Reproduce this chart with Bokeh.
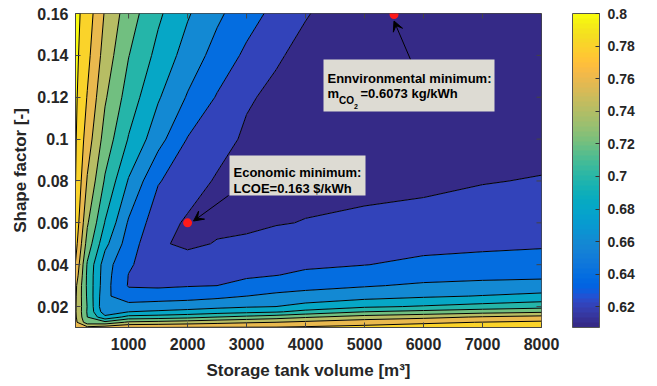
import numpy as np
from bokeh.plotting import figure
from bokeh.models import (ColorBar, LinearColorMapper, FixedTicker, Arrow, VeeHead,
                          Label, BoxAnnotation)
from bokeh.embed import file_html
from bokeh.resources import INLINE

# ---------------- data ----------------
volume = [100, 300, 600, 1000, 1500, 2000, 2500, 3000, 3500, 4000, 5000, 6000, 7000, 8000]
shape_factor = [0.010, 0.0125, 0.015, 0.0175, 0.020, 0.025, 0.030, 0.035, 0.040,
                0.050, 0.060, 0.080, 0.100, 0.120, 0.140, 0.160]
# m_CO2 [kg/kWh], one row per shape factor, one column per volume
m_co2 = [
    [0.770, 0.766, 0.772, 0.7805, 0.7805, 0.781, 0.7812, 0.7813, 0.7815, 0.783, 0.786, 0.789, 0.791, 0.793],
    [0.765, 0.728, 0.725, 0.7433, 0.7462, 0.750, 0.7538, 0.7575, 0.760, 0.7645, 0.7717, 0.7767, 0.7805, 0.7835],
    [0.763, 0.720, 0.685, 0.7067, 0.7093, 0.7133, 0.720, 0.7253, 0.7307, 0.7375, 0.7484, 0.7544, 0.7617, 0.7667],
    [0.762, 0.718, 0.668, 0.680, 0.6829, 0.6864, 0.6908, 0.6946, 0.6979, 0.7063, 0.720, 0.7259, 0.7322, 0.7368],
    [0.762, 0.719, 0.662, 0.6675, 0.6695, 0.6716, 0.6749, 0.6779, 0.680, 0.6867, 0.6967, 0.7018, 0.7073, 0.7125],
    [0.763, 0.717, 0.664, 0.6483, 0.6503, 0.6521, 0.6554, 0.660, 0.6641, 0.6671, 0.6725, 0.6771, 0.6809, 0.6854],
    [0.7646, 0.716, 0.667, 0.6385, 0.637, 0.6388, 0.640, 0.6457, 0.651, 0.654, 0.6584, 0.6629, 0.6655, 0.6672],
    [0.7728, 0.716, 0.668, 0.6395, 0.631, 0.6337, 0.6352, 0.6373, 0.6396, 0.6432, 0.6487, 0.6529, 0.6546, 0.6557],
    [0.7789, 0.7177, 0.669, 0.6427, 0.627, 0.6286, 0.6305, 0.6327, 0.6352, 0.6373, 0.6396, 0.6439, 0.6462, 0.6482],
    [0.7882, 0.7319, 0.6855, 0.6502, 0.6225, 0.6165, 0.621, 0.6236, 0.6265, 0.6294, 0.6325, 0.6349, 0.6362, 0.6375],
    [0.7945, 0.7424, 0.699, 0.6576, 0.628, 0.6175, 0.6165, 0.616, 0.619, 0.6206, 0.6254, 0.6284, 0.6303, 0.6321],
    [0.8004, 0.7581, 0.7177, 0.6783, 0.6415, 0.6286, 0.618, 0.6165, 0.6155, 0.615, 0.612, 0.6145, 0.619, 0.6212],
    [0.802, 0.7703, 0.7319, 0.6987, 0.6675, 0.639, 0.6273, 0.617, 0.6145, 0.613, 0.612, 0.6115, 0.6115, 0.6125],
    [0.8035, 0.7789, 0.7424, 0.711, 0.6821, 0.6583, 0.6385, 0.6221, 0.616, 0.613, 0.611, 0.6105, 0.6105, 0.611],
    [0.805, 0.7856, 0.7514, 0.7206, 0.6942, 0.6716, 0.6525, 0.6361, 0.6221, 0.615, 0.610, 0.6095, 0.6095, 0.6105],
    [0.806, 0.7906, 0.7581, 0.7294, 0.7036, 0.6821, 0.6639, 0.6482, 0.6344, 0.6211, 0.6085, 0.608, 0.609, 0.610],
]
levels = [0.60, 0.62, 0.64, 0.66, 0.68, 0.70, 0.72, 0.74, 0.76, 0.78, 0.80, 0.82]
color_low, color_high = 0.6073, 0.80

x_ticks = [1000, 2000, 3000, 4000, 5000, 6000, 7000, 8000]
y_ticks = [0.02, 0.04, 0.06, 0.08, 0.10, 0.12, 0.14, 0.16]
y_tick_labels = ["0.02", "0.04", "0.06", "0.08", "0.1", "0.12", "0.14", "0.16"]
cbar_ticks = [0.62, 0.64, 0.66, 0.68, 0.70, 0.72, 0.74, 0.76, 0.78, 0.80]
cbar_tick_labels = ["0.62", "0.64", "0.66", "0.68", "0.7", "0.72", "0.74", "0.76", "0.78", "0.8"]

minimum_volume = [2000, 5500]
minimum_shape = [0.06, 0.1595]

X_MIN, X_MAX = 100, 8000
Y_MIN, Y_MAX = 0.01, 0.16

# ---------------- parula colormap ----------------
parula = [
    (0.2081, 0.1663, 0.5292), (0.2116, 0.1898, 0.5777), (0.2123, 0.2138, 0.6270), (0.2081, 0.2386, 0.6771),
    (0.1959, 0.2645, 0.7279), (0.1707, 0.2919, 0.7792), (0.1253, 0.3242, 0.8303), (0.0591, 0.3598, 0.8683),
    (0.0117, 0.3875, 0.8820), (0.0060, 0.4086, 0.8828), (0.0165, 0.4266, 0.8786), (0.0329, 0.4430, 0.8720),
    (0.0498, 0.4586, 0.8641), (0.0629, 0.4737, 0.8554), (0.0723, 0.4887, 0.8467), (0.0779, 0.5040, 0.8384),
    (0.0793, 0.5200, 0.8312), (0.0749, 0.5375, 0.8263), (0.0641, 0.5570, 0.8240), (0.0488, 0.5772, 0.8228),
    (0.0343, 0.5966, 0.8199), (0.0265, 0.6137, 0.8135), (0.0239, 0.6287, 0.8038), (0.0231, 0.6418, 0.7913),
    (0.0228, 0.6535, 0.7768), (0.0267, 0.6642, 0.7607), (0.0384, 0.6743, 0.7436), (0.0590, 0.6838, 0.7254),
    (0.0843, 0.6928, 0.7062), (0.1133, 0.7015, 0.6859), (0.1453, 0.7098, 0.6646), (0.1801, 0.7177, 0.6424),
    (0.2178, 0.7250, 0.6193), (0.2586, 0.7317, 0.5954), (0.3022, 0.7376, 0.5712), (0.3482, 0.7424, 0.5473),
    (0.3953, 0.7459, 0.5244), (0.4420, 0.7481, 0.5033), (0.4871, 0.7491, 0.4840), (0.5300, 0.7491, 0.4661),
    (0.5709, 0.7485, 0.4494), (0.6099, 0.7473, 0.4337), (0.6473, 0.7456, 0.4188), (0.6834, 0.7435, 0.4044),
    (0.7184, 0.7411, 0.3905), (0.7525, 0.7384, 0.3768), (0.7858, 0.7356, 0.3633), (0.8185, 0.7327, 0.3498),
    (0.8507, 0.7299, 0.3360), (0.8824, 0.7274, 0.3217), (0.9139, 0.7258, 0.3063), (0.9450, 0.7261, 0.2886),
    (0.9739, 0.7314, 0.2666), (0.9938, 0.7455, 0.2403), (0.9990, 0.7653, 0.2164), (0.9955, 0.7861, 0.1967),
    (0.9880, 0.8066, 0.1794), (0.9789, 0.8271, 0.1633), (0.9697, 0.8481, 0.1475), (0.9626, 0.8705, 0.1309),
    (0.9589, 0.8949, 0.1132), (0.9598, 0.9218, 0.0948), (0.9661, 0.9514, 0.0755), (0.9763, 0.9831, 0.0538),
]
parula_hex = ["#%02x%02x%02x" % tuple(int(round(c * 255)) for c in rgb) for rgb in parula]


def band_color(v):
    v = max(v, color_low)
    idx = int((v - color_low) / (color_high - color_low) * 64)
    return parula_hex[min(63, max(0, idx))]


band_colors = [band_color(v) for v in levels[:-1]]

FONT = "Liberation Sans"
TXT = "#262626"
AX = "#444444"

FRAME_L, FRAME_T, FRAME_W, FRAME_H = 75, 13, 466, 314

# ---------------- figure ----------------
p = figure(width=657, height=386, x_range=(X_MIN, X_MAX), y_range=(Y_MIN, Y_MAX),
           output_backend="svg", toolbar_location=None,
           min_border_left=FRAME_L, min_border_right=657 - FRAME_L - FRAME_W,
           min_border_top=FRAME_T, min_border_bottom=386 - FRAME_T - FRAME_H)
p.grid.visible = False
p.outline_line_color = AX
p.outline_line_width = 1
p.background_fill_color = "white"
p.border_fill_color = "white"

p.contour(x=volume, y=shape_factor, z=np.array(m_co2), levels=levels,
          fill_color=band_colors, line_color="black", line_width=1)

p.scatter(minimum_volume, minimum_shape, size=9, fill_color="#ff1a1a", line_color=None)

# axes
for ax in (p.xaxis[0], p.yaxis[0]):
    ax.major_label_text_font = FONT
    ax.major_label_text_font_style = "bold"
    ax.major_label_text_font_size = "16px"
    ax.major_label_text_color = TXT
    ax.axis_label_text_font = FONT
    ax.axis_label_text_font_style = "bold"
    ax.axis_label_text_font_size = "17px"
    ax.axis_label_text_color = TXT
    ax.major_tick_in = 5
    ax.major_tick_out = 0
    ax.minor_tick_line_color = None
    ax.major_tick_line_color = AX
    ax.axis_line_color = AX

p.xaxis.ticker = FixedTicker(ticks=x_ticks)
p.yaxis.ticker = FixedTicker(ticks=y_ticks)
p.yaxis.major_label_overrides = dict(zip(y_ticks, y_tick_labels))
p.xaxis.axis_label = "Storage tank volume [m³]"
p.yaxis.axis_label = "Shape factor [-]"
p.xaxis.major_label_standoff = 10
p.xaxis.axis_label_standoff = 8
p.yaxis.major_label_standoff = 7
p.yaxis.axis_label_standoff = 4

# inward box ticks on the top and right edges (from the tick lists)
tick_len_y = 5 / FRAME_H * (Y_MAX - Y_MIN)
tick_len_x = 5 / FRAME_W * (X_MAX - X_MIN)
p.segment(x0=x_ticks, y0=[Y_MAX] * len(x_ticks), x1=x_ticks, y1=[Y_MAX - tick_len_y] * len(x_ticks),
          line_color=AX, line_width=1)
p.segment(x0=[X_MAX] * len(y_ticks), y0=y_ticks, x1=[X_MAX - tick_len_x] * len(y_ticks), y1=y_ticks,
          line_color=AX, line_width=1)

# colorbar
mapper = LinearColorMapper(palette=parula_hex, low=color_low, high=color_high)
cb = ColorBar(color_mapper=mapper, ticker=FixedTicker(ticks=cbar_ticks),
              major_label_overrides=dict(zip(cbar_ticks, cbar_tick_labels)),
              width=27, height=FRAME_H, location=(31, 0), margin=0, padding=0,
              major_label_text_font=FONT, major_label_text_font_style="bold",
              major_label_text_font_size="14px", major_label_text_color=TXT,
              major_tick_line_color="#333333", major_tick_in=4, major_tick_out=0,
              minor_tick_line_color=None, label_standoff=8,
              bar_line_color="#555555", border_line_color=None,
              background_fill_color=None)
p.add_layout(cb, "right")

# ---------------- annotations (positions in screen pixels) ----------------
def dx(px):
    return X_MIN + (px - FRAME_L) / FRAME_W * (X_MAX - X_MIN)


def dy(py):
    return Y_MAX - (py - FRAME_T) / FRAME_H * (Y_MAX - Y_MIN)


BOX_FILL = "#dddbd3"
p.add_layout(Arrow(end=VeeHead(size=10, fill_color="black", line_color="black"),
                   x_start=dx(228), y_start=dy(195), x_end=dx(193), y_end=dy(220.5),
                   line_color="black", line_width=1))
p.add_layout(Arrow(end=VeeHead(size=10, fill_color="black", line_color="black"),
                   x_start=dx(410), y_start=dy(59), x_end=dx(393.5), y_end=dy(20.5),
                   line_color="black", line_width=1))

p.add_layout(BoxAnnotation(left=dx(229), right=dx(365), top=dy(155), bottom=dy(195),
                           fill_color=BOX_FILL, fill_alpha=1, line_color=None))
p.add_layout(BoxAnnotation(left=dx(323), right=dx(494), top=dy(59), bottom=dy(111),
                           fill_color=BOX_FILL, fill_alpha=1, line_color=None))


def add_text(px, py, text, size="13px"):
    p.add_layout(Label(x=dx(px), y=dy(py), text=text, text_font=FONT, text_font_style="bold",
                       text_font_size=size, text_color="black", text_baseline="alphabetic",
                       text_align="left"))


add_text(233, 172, "Economic minimum:")
add_text(233, 188, "LCOE=0.163 $/kWh")
add_text(327, 77.5, "Ennvironmental minimum:")
add_text(327, 93, "m")
add_text(338.5, 100, "CO", "10px")
add_text(353.5, 105.5, "2", "7px")
add_text(360, 93, "=0.6073 kg/kWh")

open("out.html", "w").write(file_html(p, INLINE))
